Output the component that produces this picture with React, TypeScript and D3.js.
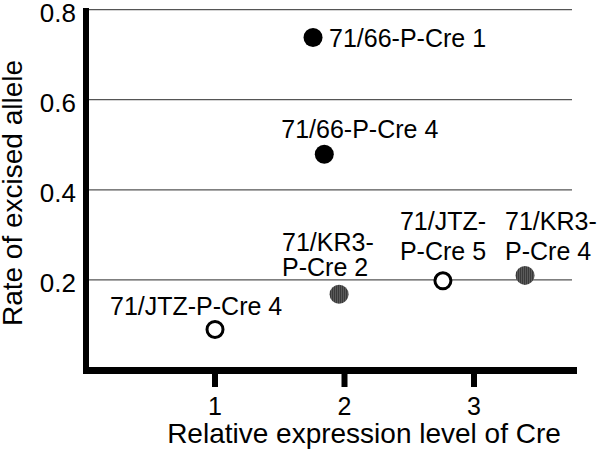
import React from 'react'
import * as d3 from 'd3'

// Cre lines, expression level (x) and excised-allele rate (y)
const LINES = [
  ['71/66-P-Cre 1'],
  ['71/66-P-Cre 4'],
  ['71/JTZ-P-Cre 4'],
  ['71/KR3-', 'P-Cre 2'],
  ['71/JTZ-', 'P-Cre 5'],
  ['71/KR3-', 'P-Cre 4'],
]
const EXPRESSION = [1.757, 1.844, 1.0, 1.958, 2.76, 3.394]
const RATE = [0.738, 0.479, 0.09, 0.168, 0.198, 0.21]
const MARKER = ['filled', 'filled', 'open', 'hatched', 'open', 'hatched']

const X_TICKS = [1, 2, 3]
const Y_TICKS = [0.2, 0.4, 0.6, 0.8]
const Y_TICK_LABELS = ['0.2', '0.4', '0.6', '0.8']
const X_TITLE = 'Relative expression level of Cre'
const Y_TITLE = 'Rate of excised allele'

// label placement relative to its point: [dx, dy of first baseline, line gap]
const LABEL_OFFSETS = [
  [16, 9, 0],
  [-43, -16, 0],
  [-105, -14, 0],
  [-57, -43.5, 25],
  [-43, -50.5, 30],
  [-20, -45, 30],
]

const W = 600
const H = 451
const FONT = '"Liberation Sans", Arial, sans-serif'

export default function App() {
  const x = d3.scaleLinear().domain([0, 3.8]).range([85.5, 577.6])
  const y = d3.scaleLinear().domain([0, 0.8]).range([370, 9.6])

  const axisX = 86
  const axisY = 370.5

  return (
    <div style={{ position: 'fixed', left: 0, top: 0 }}>
      <svg width={W} height={H} style={{ display: 'block', background: '#fff' }} fontFamily={FONT}>
        <defs>
          <pattern id="hatch" width="2" height="4" patternUnits="userSpaceOnUse">
            <rect width="2" height="4" fill="#5a5a5a" />
            <rect width="1" height="4" fill="#3a3a3a" />
          </pattern>
        </defs>

        {/* gridlines */}
        {Y_TICKS.map(t => (
          <line key={t} x1={axisX} x2={572} y1={y(t)} y2={y(t)} stroke="#555" strokeWidth={1.2} />
        ))}

        {/* y tick labels */}
        {Y_TICKS.map((t, i) => (
          <text key={t} x={76} y={y(t) + 12} textAnchor="end" fontSize={26} fill="#000">
            {Y_TICK_LABELS[i]}
          </text>
        ))}

        {/* x ticks */}
        {X_TICKS.map(t => (
          <g key={t}>
            <line x1={x(t)} x2={x(t)} y1={axisY} y2={387} stroke="#000" strokeWidth={6} />
            <text x={x(t)} y={415} textAnchor="middle" fontSize={25} fill="#000">{t}</text>
          </g>
        ))}

        {/* axes */}
        <line x1={axisX} x2={axisX} y1={8} y2={axisY + 3.5} stroke="#000" strokeWidth={6} />
        <line x1={83} x2={577} y1={axisY} y2={axisY} stroke="#000" strokeWidth={7} />

        {/* axis titles */}
        <text x={364} y={443} textAnchor="middle" fontSize={28} fill="#000">{X_TITLE}</text>
        <text transform={`translate(22,193) rotate(-90)`} textAnchor="middle" fontSize={28} fill="#000">
          {Y_TITLE}
        </text>

        {/* points */}
        {EXPRESSION.map((v, i) => {
          const cx = x(v)
          const cy = y(RATE[i])
          const m = MARKER[i]
          return m === 'open' ? (
            <circle key={i} cx={cx} cy={cy} r={8} fill="#fff" stroke="#000" strokeWidth={3} />
          ) : (
            <circle key={i} cx={cx} cy={cy} r={9.5} fill={m === 'filled' ? '#000' : 'url(#hatch)'} />
          )
        })}

        {/* point labels */}
        {LINES.map((lines, i) => {
          const [dx, dy, gap] = LABEL_OFFSETS[i]
          const lx = x(EXPRESSION[i]) + dx
          const ly = y(RATE[i]) + dy
          return (
            <text key={i} x={lx} y={ly} fontSize={25} fill="#000">
              {lines.map((s, j) => (
                <tspan key={j} x={lx} y={ly + j * gap}>{s}</tspan>
              ))}
            </text>
          )
        })}
      </svg>
    </div>
  )
}
